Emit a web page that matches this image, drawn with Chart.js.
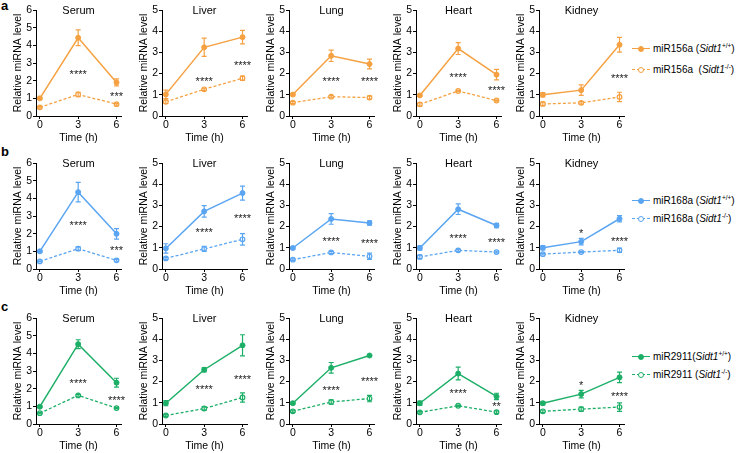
<!DOCTYPE html>
<html lang="en">
<head>
<meta charset="UTF-8">
<title>Sidt1 miRNA levels</title>
<script src="https://cdn.jsdelivr.net/npm/chart.js"></script>
<style>
  body { margin: 0; background: #fff; font-family: 'Liberation Sans', Arial, sans-serif; }
  #fig { position: relative; width: 739px; height: 453px; overflow: hidden; background: #fff; }
  #fig canvas { position: absolute; }
  .tag { position: absolute; font-weight: bold; font-size: 13px; color: #000; }
  .lg { position: absolute; left: 632px; font-size: 10px; line-height: 14px; color: #000; white-space: nowrap; }
  .lg sup { font-size: 6.5px; vertical-align: 4px; line-height: 0; }
  .mk { display: inline-block; position: relative; width: 18px; height: 14px; margin-right: 3px; vertical-align: top; }
  .mk::before { content: ''; position: absolute; left: 0; right: 0; top: 6px; border-top: 1.5px solid var(--c); }
  .mk.ko::before { border-top-style: dashed; border-top-width: 1.2px; }
  .mk::after { content: ''; position: absolute; left: 6px; top: 4px; width: 4px; height: 4px; border-radius: 50%; background: var(--c); border: 1px solid var(--c); }
  .mk.ko::after { background: #fff; }
</style>
</head>
<body>
<div id="fig">
  <div class="tag" style="left:1px;top:-2px">a</div>
  <div class="tag" style="left:1px;top:144px">b</div>
  <div class="tag" style="left:1px;top:299px">c</div>

  <div class="lg" style="top:42px"><span class="mk" style="--c:#F5A142"></span>miR156a (<i>Sidt1</i><sup>+/+</sup>)</div>
  <div class="lg" style="top:63px"><span class="mk ko" style="--c:#F5A142"></span>miR156a&nbsp; (<i>Sidt1</i><sup>-/-</sup>)</div>
  <div class="lg" style="top:194px"><span class="mk" style="--c:#5AA5F2"></span>miR168a (<i>Sidt1</i><sup>+/+</sup>)</div>
  <div class="lg" style="top:212px"><span class="mk ko" style="--c:#5AA5F2"></span>miR168a (<i>Sidt1</i><sup>-/-</sup>)</div>
  <div class="lg" style="top:350px"><span class="mk" style="--c:#1DAF67"></span>miR2911(<i>Sidt1</i><sup>+/+</sup>)</div>
  <div class="lg" style="top:368px"><span class="mk ko" style="--c:#1DAF67"></span>miR2911 (<i>Sidt1</i><sup>-/-</sup>)</div>
</div>

<script>
// data
const times = [0, 3, 6];
const tissues = ['Serum', 'Liver', 'Lung', 'Heart', 'Kidney'];
const yMax = [6, 5, 5, 5, 5];
const yTicks6 = [0, 1, 2, 3, 4, 5, 6];
const yTicks5 = [0, 1, 2, 3, 4, 5];

// miR156a
const mir156aWT = [[1.0, 4.43, 1.9], [1.02, 3.24, 3.72], [1.01, 2.84, 2.45], [0.97, 3.18, 1.95], [1.0, 1.22, 3.36]];
const mir156aWTErr = [[0.06, 0.45, 0.2], [0.2, 0.43, 0.32], [0.06, 0.27, 0.23], [0.05, 0.28, 0.25], [0.1, 0.25, 0.35]];
const mir156aKO = [[0.49, 1.22, 0.67], [0.67, 1.26, 1.78], [0.63, 0.91, 0.87], [0.55, 1.18, 0.73], [0.57, 0.62, 0.9]];
const mir156aKOErr = [[0.04, 0.12, 0.05], [0.08, 0.05, 0.1], [0.05, 0.05, 0.07], [0.08, 0.03, 0.03], [0.08, 0.06, 0.22]];
const mir156aStars = [['', '****', '***'], ['', '****', '****'], ['', '****', '****'], ['', '****', '****'], ['', '', '****']];
const mir156aStarY = [[0, 2.48, 1.24], [0, 1.74, 2.5], [0, 1.74, 1.74], [0, 1.93, 1.3], [0, 0, 1.89]];

// miR168a
const mir168aWT = [[1.0, 4.35, 1.99], [0.97, 2.72, 3.58], [0.99, 2.36, 2.17], [0.99, 2.82, 2.05], [1.0, 1.29, 2.37]];
const mir168aWTErr = [[0.06, 0.55, 0.3], [0.22, 0.27, 0.33], [0.05, 0.25, 0.1], [0.1, 0.25, 0.1], [0.1, 0.15, 0.15]];
const mir168aKO = [[0.43, 1.15, 0.49], [0.5, 0.95, 1.4], [0.44, 0.78, 0.6], [0.57, 0.88, 0.8], [0.7, 0.8, 0.88]];
const mir168aKOErr = [[0.03, 0.1, 0.05], [0.05, 0.12, 0.27], [0.04, 0.05, 0.15], [0.08, 0.05, 0.04], [0.04, 0.03, 0.1]];
const mir168aStars = [['', '****', '***'], ['', '****', '****'], ['', '****', '****'], ['', '****', '****'], ['', '*', '****']];
const mir168aStarY = [[0, 2.58, 1.19], [0, 1.82, 2.48], [0, 1.42, 1.31], [0, 1.54, 1.39], [0, 1.8, 1.4]];

// miR2911
const mir2911WT = [[0.98, 4.52, 2.34], [0.98, 2.56, 3.71], [0.98, 2.65, 3.23], [0.98, 2.38, 1.3], [0.98, 1.41, 2.2]];
const mir2911WTErr = [[0.05, 0.25, 0.25], [0.12, 0.1, 0.5], [0.05, 0.25, 0.03], [0.1, 0.3, 0.15], [0.08, 0.18, 0.25]];
const mir2911KO = [[0.61, 1.62, 0.9], [0.4, 0.73, 1.25], [0.6, 1.04, 1.2], [0.55, 0.86, 0.56], [0.6, 0.7, 0.8]];
const mir2911KOErr = [[0.04, 0.05, 0.03], [0.04, 0.08, 0.22], [0.05, 0.1, 0.15], [0.04, 0.03, 0.06], [0.06, 0.1, 0.2]];
const mir2911Stars = [['', '****', '****'], ['', '****', '****'], ['', '****', '****'], ['', '****', '**'], ['', '*', '****']];
const mir2911StarY = [[0, 2.46, 1.49], [0, 1.74, 2.21], [0, 1.7, 2.12], [0, 1.58, 0.92], [0, 1.93, 1.41]];

const rows = [
  { color: '#F5A142', wt: mir156aWT, wtErr: mir156aWTErr, ko: mir156aKO, koErr: mir156aKOErr, stars: mir156aStars, starY: mir156aStarY },
  { color: '#5AA5F2', wt: mir168aWT, wtErr: mir168aWTErr, ko: mir168aKO, koErr: mir168aKOErr, stars: mir168aStars, starY: mir168aStarY },
  { color: '#1DAF67', wt: mir2911WT, wtErr: mir2911WTErr, ko: mir2911KO, koErr: mir2911KOErr, stars: mir2911Stars, starY: mir2911StarY }
];

// layout
const FONT = "'Liberation Sans', Arial, sans-serif";
const rowTop = [10, 163, 318];   // pixel of the top y tick
const colAxis = [36, 162, 289, 416, 539]; // pixel of the y axis line
const yAxisW = 30, xAxisH = 30, padTop = 8, padRight = 6, plotW = 85, plotH = 106;

// error bars, asterisks and panel title
const extras = {
  id: 'extras',
  afterDatasetsDraw(chart, args, opts) {
    const { ctx, chartArea } = chart;
    const xs = chart.scales.x, ys = chart.scales.y;
    ctx.save();
    chart.data.datasets.forEach(ds => {
      ctx.strokeStyle = ds.borderColor;
      ctx.lineWidth = 1.2;
      ctx.setLineDash([]);
      ds.data.forEach((p, k) => {
        const e = ds.err[k];
        const px = xs.getPixelForValue(p.x);
        const y1 = ys.getPixelForValue(p.y + e), y2 = ys.getPixelForValue(p.y - e);
        ctx.beginPath();
        ctx.moveTo(px, y1); ctx.lineTo(px, y2);
        ctx.moveTo(px - 2.5, y1); ctx.lineTo(px + 2.5, y1);
        ctx.moveTo(px - 2.5, y2); ctx.lineTo(px + 2.5, y2);
        ctx.stroke();
      });
    });
    // significance
    ctx.fillStyle = '#222';
    ctx.font = '11px ' + FONT;
    ctx.textAlign = 'center';
    ctx.textBaseline = 'alphabetic';
    opts.stars.forEach((s, k) => {
      if (!s) return;
      ctx.fillText(s, xs.getPixelForValue(times[k]), ys.getPixelForValue(opts.starY[k]) + 6);
    });
    // panel title
    ctx.fillStyle = '#000';
    ctx.font = '11px ' + FONT;
    ctx.textBaseline = 'middle';
    ctx.fillText(opts.title, (chartArea.left + chartArea.right) / 2, chartArea.top + 1);
    ctx.restore();
  }
};

const fig = document.getElementById('fig');

rows.forEach((row, r) => {
  tissues.forEach((tissue, i) => {
    const cv = document.createElement('canvas');
    const w = yAxisW + plotW + padRight, h = padTop + plotH + xAxisH;
    cv.width = w; cv.height = h;
    cv.style.left = (colAxis[i] - yAxisW) + 'px';
    cv.style.top = (rowTop[r] - padTop) + 'px';
    fig.appendChild(cv);

    const yt = yMax[i] === 6 ? yTicks6 : yTicks5;

    new Chart(cv, {
      type: 'line',
      data: {
        datasets: [
          {
            data: times.map((t, k) => ({ x: t, y: row.ko[i][k] })),
            err: row.koErr[i],
            borderColor: row.color, backgroundColor: '#fff',
            borderWidth: 1.3, borderDash: [3, 2],
            pointRadius: 2.3, pointBorderWidth: 1.2,
            pointBackgroundColor: '#fff', pointBorderColor: row.color
          },
          {
            data: times.map((t, k) => ({ x: t, y: row.wt[i][k] })),
            err: row.wtErr[i],
            borderColor: row.color, backgroundColor: row.color,
            borderWidth: 1.5,
            pointRadius: 2.5, pointBorderWidth: 1,
            pointBackgroundColor: row.color, pointBorderColor: row.color
          }
        ]
      },
      options: {
        responsive: false,
        animation: false,
        devicePixelRatio: 1,
        layout: { padding: { top: padTop, right: padRight, left: 0, bottom: 0 } },
        plugins: {
          legend: { display: false },
          tooltip: { enabled: false },
          extras: { stars: row.stars[i], starY: row.starY[i], title: tissue }
        },
        scales: {
          x: {
            type: 'linear', min: -0.3, max: 6.35,
            afterBuildTicks: s => { s.ticks = times.map(v => ({ value: v })); },
            afterFit: s => { s.height = xAxisH; },
            grid: { display: true, drawOnChartArea: false, drawTicks: true, tickLength: 3, color: '#000', lineWidth: 1 },
            border: { display: true, color: '#000', width: 1 },
            ticks: { color: '#000', font: { family: FONT, size: 10.5 }, padding: 0, maxRotation: 0 },
            title: { display: true, text: 'Time (h)', color: '#000', font: { family: FONT, size: 10.5 }, padding: { top: 0, bottom: 2 } }
          },
          y: {
            type: 'linear', min: 0, max: yMax[i],
            afterBuildTicks: s => { s.ticks = yt.map(v => ({ value: v })); },
            afterFit: s => { s.width = yAxisW; },
            grid: { display: true, drawOnChartArea: false, drawTicks: true, tickLength: 3, color: '#000', lineWidth: 1 },
            border: { display: true, color: '#000', width: 1 },
            ticks: { color: '#000', font: { family: FONT, size: 10.5 }, padding: 1 },
            title: { display: true, text: 'Relative miRNA level', color: '#000', font: { family: FONT, size: 10.5 }, padding: { top: 6, bottom: 0 } }
          }
        }
      },
      plugins: [extras]
    });
  });
});
</script>
</body>
</html>
